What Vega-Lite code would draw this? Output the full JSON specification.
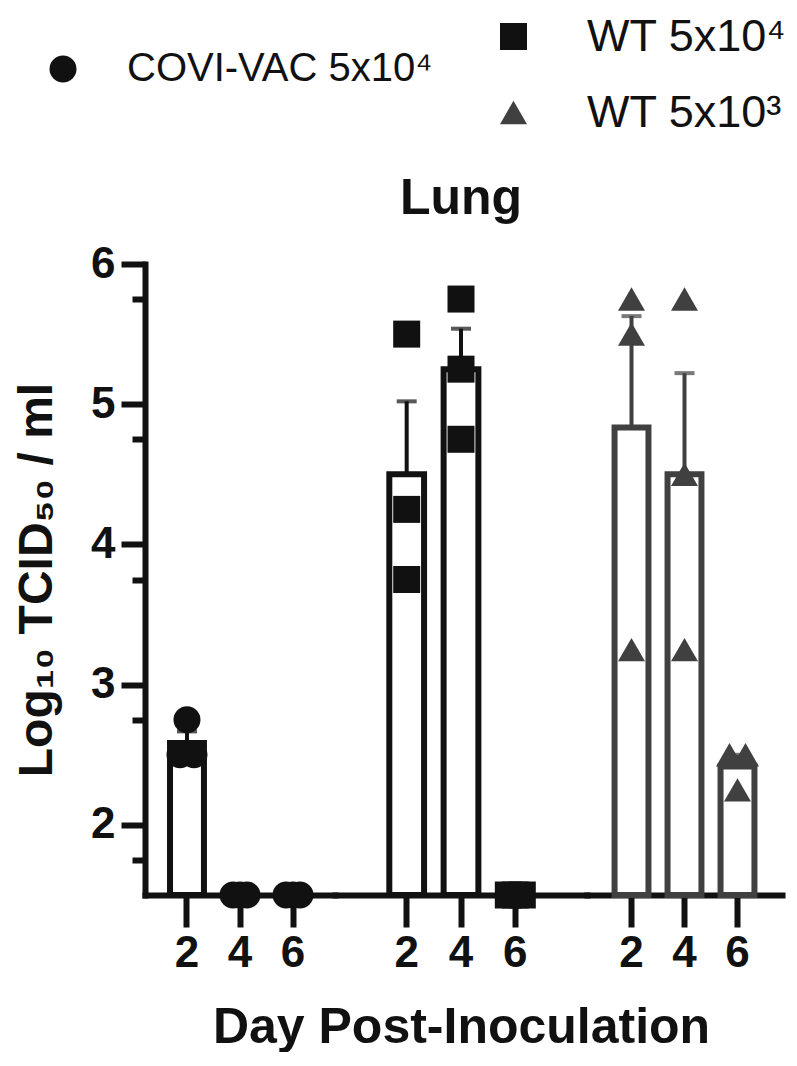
{
  "$schema": "https://vega.github.io/schema/vega-lite/v6.json",
  "background": "white",
  "padding": {"left": 13, "top": 14, "right": 0, "bottom": 0},
  "config": {"view": {"stroke": null}, "font": "Liberation Sans"},
  "data": {"values": [
    {"group": "COVI-VAC 5x10⁴", "day": 2, "value": 2.75},
    {"group": "COVI-VAC 5x10⁴", "day": 2, "value": 2.5},
    {"group": "COVI-VAC 5x10⁴", "day": 2, "value": 2.5},
    {"group": "COVI-VAC 5x10⁴", "day": 4, "value": 1.5},
    {"group": "COVI-VAC 5x10⁴", "day": 4, "value": 1.5},
    {"group": "COVI-VAC 5x10⁴", "day": 4, "value": 1.5},
    {"group": "COVI-VAC 5x10⁴", "day": 6, "value": 1.5},
    {"group": "COVI-VAC 5x10⁴", "day": 6, "value": 1.5},
    {"group": "COVI-VAC 5x10⁴", "day": 6, "value": 1.5},
    {"group": "WT 5x10⁴", "day": 2, "value": 5.5},
    {"group": "WT 5x10⁴", "day": 2, "value": 4.25},
    {"group": "WT 5x10⁴", "day": 2, "value": 3.75},
    {"group": "WT 5x10⁴", "day": 4, "value": 5.75},
    {"group": "WT 5x10⁴", "day": 4, "value": 5.25},
    {"group": "WT 5x10⁴", "day": 4, "value": 4.75},
    {"group": "WT 5x10⁴", "day": 6, "value": 1.5},
    {"group": "WT 5x10⁴", "day": 6, "value": 1.5},
    {"group": "WT 5x10⁴", "day": 6, "value": 1.5},
    {"group": "WT 5x10³", "day": 2, "value": 5.75},
    {"group": "WT 5x10³", "day": 2, "value": 5.5},
    {"group": "WT 5x10³", "day": 2, "value": 3.25},
    {"group": "WT 5x10³", "day": 4, "value": 5.75},
    {"group": "WT 5x10³", "day": 4, "value": 4.5},
    {"group": "WT 5x10³", "day": 4, "value": 3.25},
    {"group": "WT 5x10³", "day": 6, "value": 2.5},
    {"group": "WT 5x10³", "day": 6, "value": 2.5},
    {"group": "WT 5x10³", "day": 6, "value": 2.25}
  ]},
  "bounds": "flush",
  "spacing": 0,
  "resolve": {"scale": {"color": "independent", "shape": "independent"}},
  "hconcat": [
    {
      "width": 190, "height": 631,
      "transform": [
        {"filter": {"field": "group", "equal": "COVI-VAC 5x10⁴"}},
        {"window": [{"op": "count", "as": "n"}, {"op": "row_number", "as": "k"}], "groupby": ["day", "value"], "frame": [null, null]}
      ],
      "encoding": {"x": {"field": "day", "type": "ordinal", "scale": {"paddingInner": 0.36, "paddingOuter": 0.472},
        "axis": {"title": null, "labelAngle": 0, "labelFontSize": 44, "labelFontWeight": "bold", "labelColor": "#111", "labelPadding": 4, "tickSize": 32, "tickWidth": 6, "tickColor": "#111", "domainWidth": 6, "domainColor": "#111", "domainCap": "square", "grid": false}}},
      "resolve": {"axis": {"y": "independent"}},
      "layer": [
        {"mark": {"type": "point", "opacity": 0},
         "encoding": {"y": {"field": "value", "type": "quantitative", "scale": {"domain": [1.5, 6], "nice": false, "zero": false},
           "axis": {"orient": "left", "values": [1.75, 2.75, 3.75, 4.75, 5.75], "tickSize": 13, "tickWidth": 6, "tickColor": "#111", "labels": false, "domain": false, "grid": false, "title": null}}}},
        {"mark": {"type": "errorbar", "extent": "stderr", "ticks": true, "size": 20, "thickness": 4, "color": "#111"},
         "encoding": {"y": {"field": "value", "type": "quantitative", "scale": {"domain": [1.5, 6], "nice": false, "zero": false}, "axis": null}}},
        {"mark": {"type": "bar", "fill": "white", "stroke": "#111", "strokeWidth": 6},
         "encoding": {"y": {"aggregate": "mean", "field": "value", "type": "quantitative", "scale": {"domain": [1.5, 6], "nice": false, "zero": false},
           "axis": {"orient": "left", "values": [2, 3, 4, 5, 6], "tickSize": 24, "tickWidth": 6, "tickColor": "#111", "domainWidth": 6, "domainColor": "#111", "domainCap": "square", "labelFontSize": 44, "labelFontWeight": "bold", "labelColor": "#111", "labelPadding": 6, "grid": false,
             "title": "Log₁₀ TCID₅₀ / ml", "titleFontSize": 48, "titleFontWeight": "bold", "titleColor": "#111", "titlePadding": 29}}}},
        {"transform": [{"filter": "datum.n == 1 || (datum.n == 3 && datum.k == 2)"}],
         "mark": {"type": "point", "filled": true, "size": 729, "opacity": 1, "strokeWidth": 0},
         "encoding": {"y": {"field": "value", "type": "quantitative", "axis": null},
           "color": {"field": "group", "type": "nominal", "scale": {"domain": ["COVI-VAC 5x10⁴"], "range": ["#111"]},
             "legend": {"orient": "none", "legendX": -102, "legendY": -215, "title": null, "labelFontSize": 40, "labelColor": "#111", "labelOffset": 44, "labelLimit": 0, "symbolSize": 729, "symbolStrokeWidth": 0}},
           "shape": {"field": "group", "type": "nominal", "scale": {"domain": ["COVI-VAC 5x10⁴"], "range": ["circle"]}}}},
        {"transform": [{"filter": "datum.n > 1 && datum.k == 1"}],
         "mark": {"type": "point", "filled": true, "size": 729, "opacity": 1, "strokeWidth": 0, "xOffset": -7},
         "encoding": {"y": {"field": "value", "type": "quantitative", "axis": null},
           "color": {"field": "group", "type": "nominal"}, "shape": {"field": "group", "type": "nominal"}}},
        {"transform": [{"filter": "(datum.n == 2 && datum.k == 2) || (datum.n == 3 && datum.k == 3)"}],
         "mark": {"type": "point", "filled": true, "size": 729, "opacity": 1, "strokeWidth": 0, "xOffset": 7},
         "encoding": {"y": {"field": "value", "type": "quantitative", "axis": null},
           "color": {"field": "group", "type": "nominal"}, "shape": {"field": "group", "type": "nominal"}}}
      ]
    },
    {
      "width": 252, "height": 631,
      "title": {"text": "Lung", "fontSize": 50, "fontWeight": "bold", "color": "#111", "anchor": "middle", "offset": 40},
      "transform": [
        {"filter": {"field": "group", "equal": "WT 5x10⁴"}},
        {"window": [{"op": "count", "as": "n"}, {"op": "row_number", "as": "k"}], "groupby": ["day", "value"], "frame": [null, null]}
      ],
      "encoding": {"x": {"field": "day", "type": "ordinal", "scale": {"paddingInner": 0.36, "paddingOuter": 1.013},
        "axis": {"title": "Day Post-Inoculation", "titleFontSize": 50, "titleFontWeight": "bold", "titleColor": "#111", "titlePadding": 27, "labelAngle": 0, "labelFontSize": 44, "labelFontWeight": "bold", "labelColor": "#111", "labelPadding": 4, "tickSize": 32, "tickWidth": 6, "tickColor": "#111", "domainWidth": 6, "domainColor": "#111", "domainCap": "square", "grid": false}}},
      "layer": [
        {"mark": {"type": "errorbar", "extent": "stderr", "ticks": true, "size": 20, "thickness": 4, "color": "#111"},
         "encoding": {"y": {"field": "value", "type": "quantitative", "scale": {"domain": [1.5, 6], "nice": false, "zero": false}, "axis": null}}},
        {"mark": {"type": "bar", "fill": "white", "stroke": "#111", "strokeWidth": 6},
         "encoding": {"y": {"aggregate": "mean", "field": "value", "type": "quantitative", "axis": null}}},
        {"transform": [{"filter": "datum.n == 1 || (datum.n == 3 && datum.k == 2)"}],
         "mark": {"type": "point", "filled": true, "size": 729, "opacity": 1, "strokeWidth": 0},
         "encoding": {"y": {"field": "value", "type": "quantitative", "axis": null},
           "color": {"field": "group", "type": "nominal", "scale": {"domain": ["WT 5x10⁴"], "range": ["#111"]}, "legend": null},
           "shape": {"field": "group", "type": "nominal", "scale": {"domain": ["WT 5x10⁴"], "range": ["square"]}, "legend": null}}},
        {"transform": [{"filter": "datum.n > 1 && datum.k == 1"}],
         "mark": {"type": "point", "filled": true, "size": 729, "opacity": 1, "strokeWidth": 0, "xOffset": -7},
         "encoding": {"y": {"field": "value", "type": "quantitative", "axis": null},
           "color": {"field": "group", "type": "nominal", "legend": null}, "shape": {"field": "group", "type": "nominal", "legend": null}}},
        {"transform": [{"filter": "(datum.n == 2 && datum.k == 2) || (datum.n == 3 && datum.k == 3)"}],
         "mark": {"type": "point", "filled": true, "size": 729, "opacity": 1, "strokeWidth": 0, "xOffset": 7},
         "encoding": {"y": {"field": "value", "type": "quantitative", "axis": null},
           "color": {"field": "group", "type": "nominal", "legend": null}, "shape": {"field": "group", "type": "nominal", "legend": null}}}
      ]
    },
    {
      "width": 195, "height": 631,
      "transform": [
        {"filter": {"field": "group", "equal": "WT 5x10³"}},
        {"window": [{"op": "count", "as": "n"}, {"op": "row_number", "as": "k"}], "groupby": ["day", "value"], "frame": [null, null]}
      ],
      "encoding": {"x": {"field": "day", "type": "ordinal", "scale": {"paddingInner": 0.36, "paddingOuter": 0.52},
        "axis": {"title": null, "labelAngle": 0, "labelFontSize": 44, "labelFontWeight": "bold", "labelColor": "#111", "labelPadding": 4, "tickSize": 32, "tickWidth": 6, "tickColor": "#111", "domainWidth": 6, "domainColor": "#111", "domainCap": "square", "grid": false}}},
      "layer": [
        {"mark": {"type": "errorbar", "extent": "stderr", "ticks": true, "size": 20, "thickness": 4, "color": "#404040"},
         "encoding": {"y": {"field": "value", "type": "quantitative", "scale": {"domain": [1.5, 6], "nice": false, "zero": false}, "axis": null}}},
        {"mark": {"type": "bar", "fill": "white", "stroke": "#404040", "strokeWidth": 6},
         "encoding": {"y": {"aggregate": "mean", "field": "value", "type": "quantitative", "axis": null}}},
        {"transform": [{"filter": "datum.n == 1 || (datum.n == 3 && datum.k == 2)"}],
         "mark": {"type": "point", "filled": true, "size": 729, "opacity": 1, "strokeWidth": 0},
         "encoding": {"y": {"field": "value", "type": "quantitative", "axis": null},
           "color": {"field": "group", "type": "nominal", "scale": {"domain": ["WT 5x10⁴", "WT 5x10³"], "range": ["#111", "#404040"]},
             "legend": {"orient": "none", "direction": "vertical", "legendX": -96, "legendY": -250, "title": null, "labelFontSize": 45, "labelColor": "#111", "labelOffset": 51, "labelLimit": 0, "symbolSize": 729, "symbolStrokeWidth": 0, "rowPadding": 30}},
           "shape": {"field": "group", "type": "nominal", "scale": {"domain": ["WT 5x10⁴", "WT 5x10³"], "range": ["square", "triangle-up"]}}}},
        {"transform": [{"filter": "datum.n > 1 && datum.k == 1"}],
         "mark": {"type": "point", "filled": true, "size": 729, "opacity": 1, "strokeWidth": 0, "xOffset": -8},
         "encoding": {"y": {"field": "value", "type": "quantitative", "axis": null},
           "color": {"field": "group", "type": "nominal"}, "shape": {"field": "group", "type": "nominal"}}},
        {"transform": [{"filter": "(datum.n == 2 && datum.k == 2) || (datum.n == 3 && datum.k == 3)"}],
         "mark": {"type": "point", "filled": true, "size": 729, "opacity": 1, "strokeWidth": 0, "xOffset": 8},
         "encoding": {"y": {"field": "value", "type": "quantitative", "axis": null},
           "color": {"field": "group", "type": "nominal"}, "shape": {"field": "group", "type": "nominal"}}}
      ]
    }
  ]
}
